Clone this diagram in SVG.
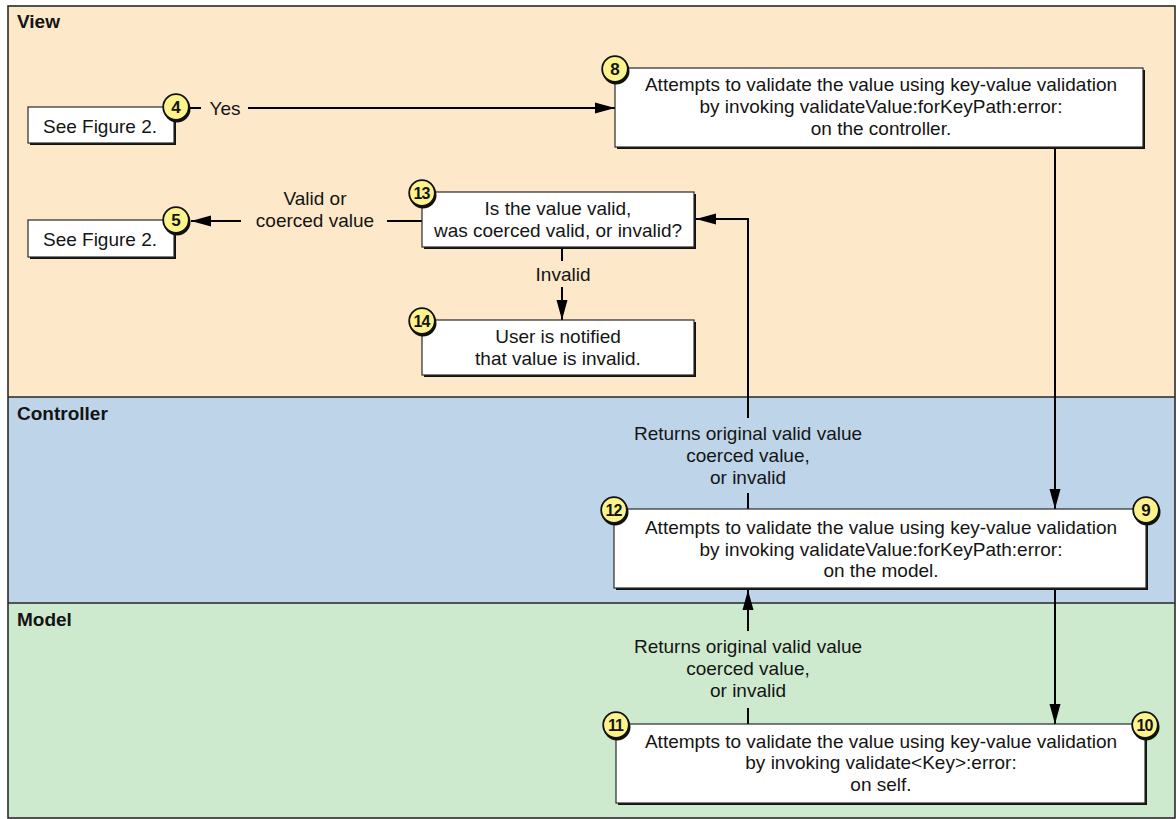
<svg xmlns="http://www.w3.org/2000/svg" width="1176" height="819" viewBox="0 0 1176 819">
  <style>
    text { font-family: "Liberation Sans", Arial, Helvetica, sans-serif; fill: #141414; }
    .t { font-size: 19px; text-anchor: middle; }
    .lane-title { font-size: 19px; font-weight: bold; }
    .box { fill: #ffffff; stroke: #2a2a2a; stroke-width: 1.2; }
    .shadow { fill: #111111; }
    .badge { fill: #fcf38c; stroke: #111111; stroke-width: 1.8; }
    .badge-shadow { fill: #111111; }
    .num { font-size: 17px; font-weight: bold; text-anchor: middle; }
    .num2 { font-size: 16px; font-weight: bold; text-anchor: middle; letter-spacing: -1px; }
    .wire { fill: none; stroke: #000000; stroke-width: 2; }
    .arrow { fill: none; stroke: #000000; stroke-width: 2; marker-end: url(#head); }
    .sep { stroke: #262626; stroke-width: 1.6; }
  </style>
  <defs>
    <marker id="head" markerUnits="userSpaceOnUse" markerWidth="20" markerHeight="12" refX="20" refY="6" orient="auto">
      <path d="M0,0.5 L20,6 L0,11.5 z" fill="#000000"/>
    </marker>
  </defs>

  <rect x="0" y="0" width="1176" height="819" fill="#ffffff"/>

  <!-- swimlanes -->
  <g id="lanes">
    <rect x="8" y="6" width="1167" height="391" fill="#fde8c9"/>
    <rect x="8" y="397" width="1167" height="206" fill="#bed5e9"/>
    <rect x="8" y="603" width="1167" height="215" fill="#ceeace"/>
    <line class="sep" x1="8" y1="397" x2="1175" y2="397"/>
    <line class="sep" x1="8" y1="603" x2="1175" y2="603"/>
    <rect x="8" y="6" width="1167" height="812" fill="none" stroke="#2a2a2a" stroke-width="1.6"/>
    <text class="lane-title" x="17" y="28">View</text>
    <text class="lane-title" x="17" y="420">Controller</text>
    <text class="lane-title" x="17" y="626">Model</text>
  </g>

  <!-- connectors -->
  <g id="connectors">
    <!-- 4 -> 8 -->
    <path class="wire" d="M189,108 H201"/>
    <text class="t" x="225" y="115">Yes</text>
    <path class="arrow" d="M248,108 H615"/>

    <!-- 13 -> 5 -->
    <path class="wire" d="M422,221 H387"/>
    <text class="t" x="315" y="205">Valid or</text>
    <text class="t" x="315" y="227">coerced value</text>
    <path class="arrow" d="M241,221 H191"/>

    <!-- 13 -> 14 -->
    <path class="wire" d="M562,249 V261"/>
    <text class="t" x="563" y="281">Invalid</text>
    <path class="arrow" d="M562,287 V320"/>

    <!-- 8 -> 9 -->
    <path class="arrow" d="M1055,149 V509"/>

    <!-- 12 -> 13 -->
    <path class="wire" d="M748,509 V493"/>
    <text class="t" x="748" y="440">Returns original valid value</text>
    <text class="t" x="748" y="462">coerced value,</text>
    <text class="t" x="748" y="484">or invalid</text>
    <path class="arrow" d="M748,418 V219 H696"/>

    <!-- 9 -> 10 -->
    <path class="arrow" d="M1055,590 V724"/>

    <!-- 11 -> 12 -->
    <path class="wire" d="M748,724 V708"/>
    <text class="t" x="748" y="653">Returns original valid value</text>
    <text class="t" x="748" y="675">coerced value,</text>
    <text class="t" x="748" y="697">or invalid</text>
    <path class="arrow" d="M748,631 V590"/>
  </g>

  <!-- step 4 -->
  <g id="step4">
    <rect class="shadow" x="30" y="109" width="146" height="36"/>
    <rect class="box" x="28" y="107" width="146" height="36"/>
    <text class="t" x="100" y="133">See Figure 2.</text>
    <circle class="badge-shadow" cx="177" cy="109" r="13.5"/>
    <circle class="badge" cx="176" cy="107" r="12.8"/>
    <text class="num" x="176" y="113">4</text>
  </g>

  <!-- step 5 -->
  <g id="step5">
    <rect class="shadow" x="30" y="222" width="146" height="37"/>
    <rect class="box" x="28" y="220" width="146" height="37"/>
    <text class="t" x="100" y="246">See Figure 2.</text>
    <circle class="badge-shadow" cx="177" cy="222" r="13.5"/>
    <circle class="badge" cx="176" cy="220" r="12.8"/>
    <text class="num" x="176" y="226">5</text>
  </g>

  <!-- step 8 -->
  <g id="step8">
    <rect class="shadow" x="617" y="70" width="528" height="79"/>
    <rect class="box" x="615" y="68" width="528" height="79"/>
    <text class="t" x="881" y="91">Attempts to validate the value using key-value validation</text>
    <text class="t" x="881" y="113">by invoking validateValue:forKeyPath:error:</text>
    <text class="t" x="881" y="135">on the controller.</text>
    <circle class="badge-shadow" cx="616" cy="71" r="13.5"/>
    <circle class="badge" cx="615" cy="69" r="12.8"/>
    <text class="num" x="615" y="75">8</text>
  </g>

  <!-- step 13 -->
  <g id="step13">
    <rect class="shadow" x="424" y="194" width="272" height="55"/>
    <rect class="box" x="422" y="192" width="272" height="55"/>
    <text class="t" x="558" y="215">Is the value valid,</text>
    <text class="t" x="558" y="237">was coerced valid, or invalid?</text>
    <circle class="badge-shadow" cx="423" cy="195" r="13.5"/>
    <circle class="badge" cx="422" cy="193" r="12.8"/>
    <text class="num2" x="421.5" y="199">13</text>
  </g>

  <!-- step 14 -->
  <g id="step14">
    <rect class="shadow" x="424" y="322" width="272" height="55"/>
    <rect class="box" x="422" y="320" width="272" height="55"/>
    <text class="t" x="558" y="343">User is notified</text>
    <text class="t" x="558" y="365">that value is invalid.</text>
    <circle class="badge-shadow" cx="423" cy="323" r="13.5"/>
    <circle class="badge" cx="422" cy="321" r="12.8"/>
    <text class="num2" x="421.5" y="327">14</text>
  </g>

  <!-- steps 9 and 12 -->
  <g id="step9-12">
    <rect class="shadow" x="616" y="511" width="532" height="79"/>
    <rect class="box" x="614" y="509" width="532" height="79"/>
    <text class="t" x="881" y="534">Attempts to validate the value using key-value validation</text>
    <text class="t" x="881" y="556">by invoking validateValue:forKeyPath:error:</text>
    <text class="t" x="881" y="577">on the model.</text>
    <circle class="badge-shadow" cx="615" cy="512" r="13.5"/>
    <circle class="badge" cx="614" cy="510" r="12.8"/>
    <text class="num2" x="613.5" y="516">12</text>
    <circle class="badge-shadow" cx="1147" cy="512" r="13.5"/>
    <circle class="badge" cx="1146" cy="510" r="12.8"/>
    <text class="num" x="1146" y="516">9</text>
  </g>

  <!-- steps 10 and 11 -->
  <g id="step10-11">
    <rect class="shadow" x="618" y="726" width="529" height="79"/>
    <rect class="box" x="616" y="724" width="529" height="79"/>
    <text class="t" x="881" y="748">Attempts to validate the value using key-value validation</text>
    <text class="t" x="881" y="769">by invoking validate&lt;Key&gt;:error:</text>
    <text class="t" x="881" y="791">on self.</text>
    <circle class="badge-shadow" cx="617" cy="727" r="13.5"/>
    <circle class="badge" cx="616" cy="725" r="12.8"/>
    <text class="num2" x="615.5" y="731">11</text>
    <circle class="badge-shadow" cx="1146" cy="727" r="13.5"/>
    <circle class="badge" cx="1145" cy="725" r="12.8"/>
    <text class="num2" x="1144.5" y="731">10</text>
  </g>
</svg>
